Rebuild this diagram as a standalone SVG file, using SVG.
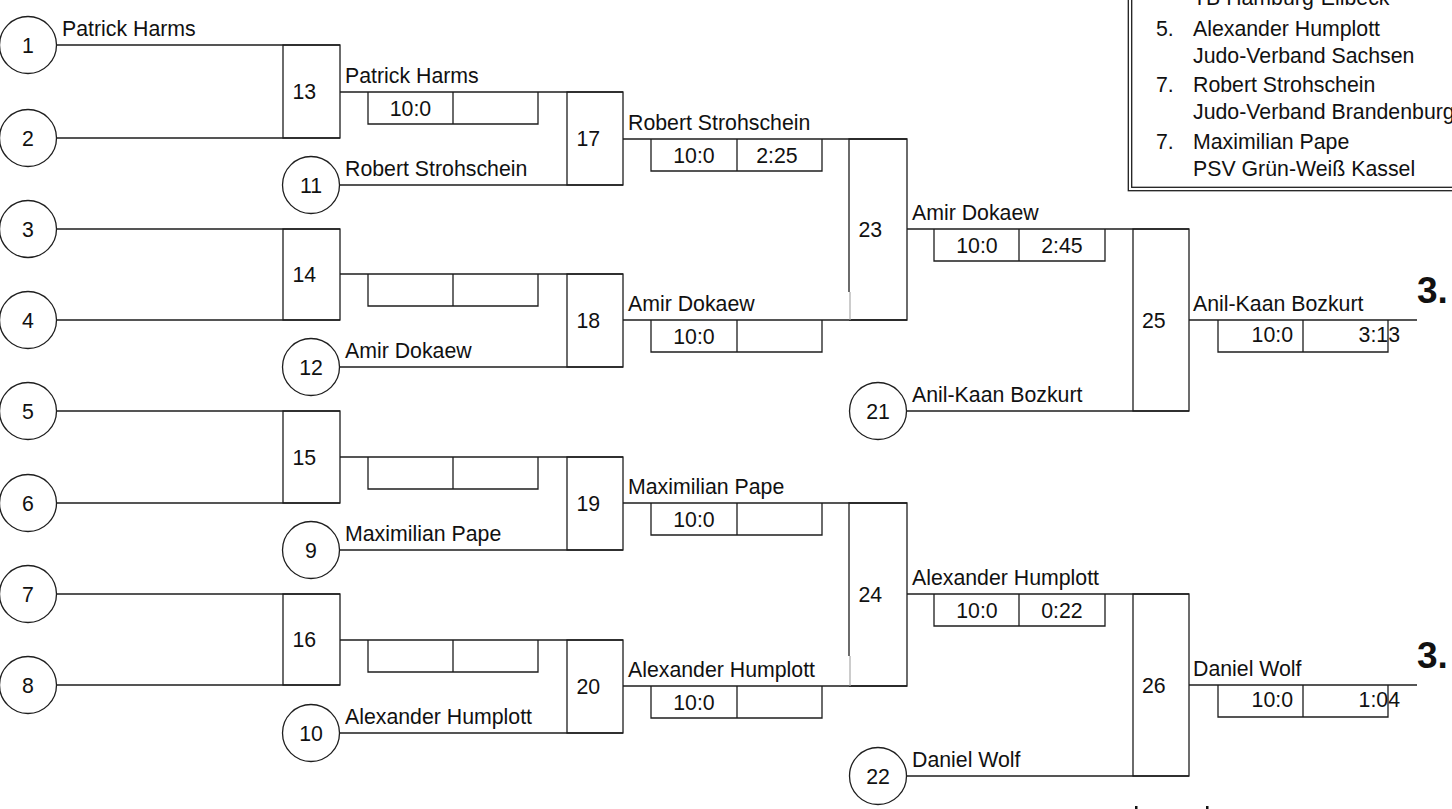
<svg xmlns="http://www.w3.org/2000/svg" width="1452" height="809" viewBox="0 0 1452 809">
<style>
text{font-family:"Liberation Sans",Arial,sans-serif;font-size:21.3px;fill:#111}
.c{text-anchor:middle}
.e{text-anchor:end}
.big{font-weight:bold;font-size:37px}
.ln{stroke:#1e1e1e;stroke-width:1.3;fill:none}
.bx{stroke:#1e1e1e;stroke-width:1.3;fill:none}
.ci{stroke:#1e1e1e;stroke-width:1.3;fill:#fff}
.lt{stroke:#aaa;stroke-width:1.2;fill:none}
</style>
<rect width="1452" height="809" fill="#fff"/>

<g id="connectors" class="ln">
<!-- round 1 -->
<path d="M57,45H340M57,138H340"/>
<path d="M57,229H340M57,320H340"/>
<path d="M57,411H340M57,503H340"/>
<path d="M57,594H340M57,685H340"/>
<!-- round 2 -->
<path d="M340,92H623M339.5,185H623"/>
<path d="M340,274H623M339.5,367H623"/>
<path d="M340,457H623M339.5,550H623"/>
<path d="M340,640H623M339.5,733H623"/>
<!-- round 3 -->
<path d="M623,139H907M623,320H907"/>
<path d="M623,503H907M623,686H907"/>
<!-- round 4 -->
<path d="M907,229H1189M906.5,411H1189"/>
<path d="M907,594H1189M906.5,776H1189"/>
<!-- final -->
<path d="M1189,320H1417M1189,685H1417"/>
</g>

<g id="seed1"><circle class="ci" cx="28" cy="45" r="28.5"/><text class="c" x="28" y="52.5">1</text></g>
<g id="seed2"><circle class="ci" cx="28" cy="138" r="28.5"/><text class="c" x="28" y="145.5">2</text></g>
<g id="seed3"><circle class="ci" cx="28" cy="229" r="28.5"/><text class="c" x="28" y="236.5">3</text></g>
<g id="seed4"><circle class="ci" cx="28" cy="320" r="28.5"/><text class="c" x="28" y="327.5">4</text></g>
<g id="seed5"><circle class="ci" cx="28" cy="411" r="28.5"/><text class="c" x="28" y="418.5">5</text></g>
<g id="seed6"><circle class="ci" cx="28" cy="503" r="28.5"/><text class="c" x="28" y="510.5">6</text></g>
<g id="seed7"><circle class="ci" cx="28" cy="594" r="28.5"/><text class="c" x="28" y="601.5">7</text></g>
<g id="seed8"><circle class="ci" cx="28" cy="685" r="28.5"/><text class="c" x="28" y="692.5">8</text></g>
<g id="seed11"><circle class="ci" cx="311" cy="185" r="28.5"/><text class="c" x="311" y="192.5">11</text></g>
<g id="seed12"><circle class="ci" cx="311" cy="367" r="28.5"/><text class="c" x="311" y="374.5">12</text></g>
<g id="seed9"><circle class="ci" cx="311" cy="550" r="28.5"/><text class="c" x="311" y="557.5">9</text></g>
<g id="seed10"><circle class="ci" cx="311" cy="733" r="28.5"/><text class="c" x="311" y="740.5">10</text></g>
<g id="seed21"><circle class="ci" cx="878" cy="411" r="28.5"/><text class="c" x="878" y="418.5">21</text></g>
<g id="seed22"><circle class="ci" cx="878" cy="776" r="28.5"/><text class="c" x="878" y="783.5">22</text></g>

<g id="match13"><rect class="bx" x="283" y="45" width="57" height="93"/><text x="292.5" y="99">13</text></g>
<g id="match14"><rect class="bx" x="283" y="229" width="57" height="91"/><text x="292.5" y="282">14</text></g>
<g id="match15"><rect class="bx" x="283" y="411" width="57" height="92"/><text x="292.5" y="464.5">15</text></g>
<g id="match16"><rect class="bx" x="283" y="594" width="57" height="91"/><text x="292.5" y="647">16</text></g>
<g id="match17"><rect class="bx" x="567" y="92" width="56" height="93"/><text x="576.5" y="146">17</text></g>
<g id="match18"><rect class="bx" x="567" y="274" width="56" height="93"/><text x="576.5" y="328">18</text></g>
<g id="match19"><rect class="bx" x="567" y="457" width="56" height="93"/><text x="576.5" y="511">19</text></g>
<g id="match20"><rect class="bx" x="567" y="640" width="56" height="93"/><text x="576.5" y="694">20</text></g>
<g id="match23"><path class="bx" d="M849,292V139H907V320H849"/><path class="lt" d="M850,292V320"/><text x="858.5" y="237">23</text></g>
<g id="match24"><path class="bx" d="M849,656V503H907V686H849"/><path class="lt" d="M850,656V686"/><text x="858.5" y="602">24</text></g>
<g id="match25"><rect class="bx" x="1133" y="229" width="56" height="182"/><text x="1142" y="328">25</text></g>
<g id="match26"><rect class="bx" x="1133" y="594" width="56" height="182"/><text x="1142" y="693">26</text></g>

<g id="score13"><path class="bx" d="M368,92V124H538V92M453,92V124"/><text class="c" x="410.5" y="115.5">10:0</text></g>
<g id="score14"><path class="bx" d="M368,274V306H538V274M453,274V306"/></g>
<g id="score15"><path class="bx" d="M368,457V489H538V457M453,457V489"/></g>
<g id="score16"><path class="bx" d="M368,640V672H538V640M453,640V672"/></g>
<g id="score17"><path class="bx" d="M651,139V171H822V139M737,139V171"/><text class="c" x="694" y="162.5">10:0</text><text class="c" x="777" y="162.5">2:25</text></g>
<g id="score18"><path class="bx" d="M651,320V352H822V320M737,320V352"/><text class="c" x="694" y="343.5">10:0</text></g>
<g id="score19"><path class="bx" d="M651,503V535H822V503M737,503V535"/><text class="c" x="694" y="526.5">10:0</text></g>
<g id="score20"><path class="bx" d="M651,686V718H822V686M737,686V718"/><text class="c" x="694" y="709.5">10:0</text></g>
<g id="score23"><path class="bx" d="M934,229V261H1105V229M1019,229V261"/><text class="c" x="977" y="252.5">10:0</text><text class="c" x="1062" y="252.5">2:45</text></g>
<g id="score24"><path class="bx" d="M934,594V626H1105V594M1019,594V626"/><text class="c" x="977" y="617.5">10:0</text><text class="c" x="1062" y="617.5">0:22</text></g>
<g id="score25"><path class="bx" d="M1218,320V352H1388V320M1303,320V352"/><text class="e" x="1293" y="342">10:0</text><text class="e" x="1400" y="342">3:13</text></g>
<g id="score26"><path class="bx" d="M1218,685V717H1388V685M1303,685V717"/><text class="e" x="1293" y="707">10:0</text><text class="e" x="1400" y="707">1:04</text></g>

<g id="names">
<text x="62" y="36">Patrick Harms</text>
<text x="345" y="83">Patrick Harms</text>
<text x="345" y="175.5">Robert Strohschein</text>
<text x="345" y="358">Amir Dokaew</text>
<text x="345" y="540.5">Maximilian Pape</text>
<text x="345" y="723.5">Alexander Humplott</text>
<text x="628" y="130">Robert Strohschein</text>
<text x="628" y="311">Amir Dokaew</text>
<text x="628" y="494">Maximilian Pape</text>
<text x="628" y="677">Alexander Humplott</text>
<text x="912" y="220">Amir Dokaew</text>
<text x="912" y="402">Anil-Kaan Bozkurt</text>
<text x="912" y="585">Alexander Humplott</text>
<text x="912" y="767">Daniel Wolf</text>
<text x="1193" y="311">Anil-Kaan Bozkurt</text>
<text x="1193" y="676">Daniel Wolf</text>
</g>

<g id="places">
<text class="big" x="1417" y="303">3.</text>
<text class="big" x="1417" y="668">3.</text>
</g>

<g id="legend">
<rect x="1128.3" y="-20" width="340" height="210.7" fill="#fff" stroke="#1e1e1e" stroke-width="1.3"/>
<rect x="1131.7" y="-20" width="340" height="207.3" fill="none" stroke="#1e1e1e" stroke-width="1.3"/>
<text x="1193" y="5">TB Hamburg-Eilbeck</text>
<text x="1156" y="35.5">5.</text><text x="1193" y="35.5">Alexander Humplott</text>
<text x="1193" y="62.5">Judo-Verband Sachsen</text>
<text x="1156" y="92">7.</text><text x="1193" y="92">Robert Strohschein</text>
<text x="1193" y="119">Judo-Verband Brandenburg</text>
<text x="1156" y="148.5">7.</text><text x="1193" y="148.5">Maximilian Pape</text>
<text x="1193" y="175.5">PSV Grün-Weiß Kassel</text>
</g>

<g id="marks" fill="#111">
<rect x="1135" y="806" width="2.5" height="3"/>
<rect x="1206" y="806" width="2.5" height="3"/>
</g>
</svg>
